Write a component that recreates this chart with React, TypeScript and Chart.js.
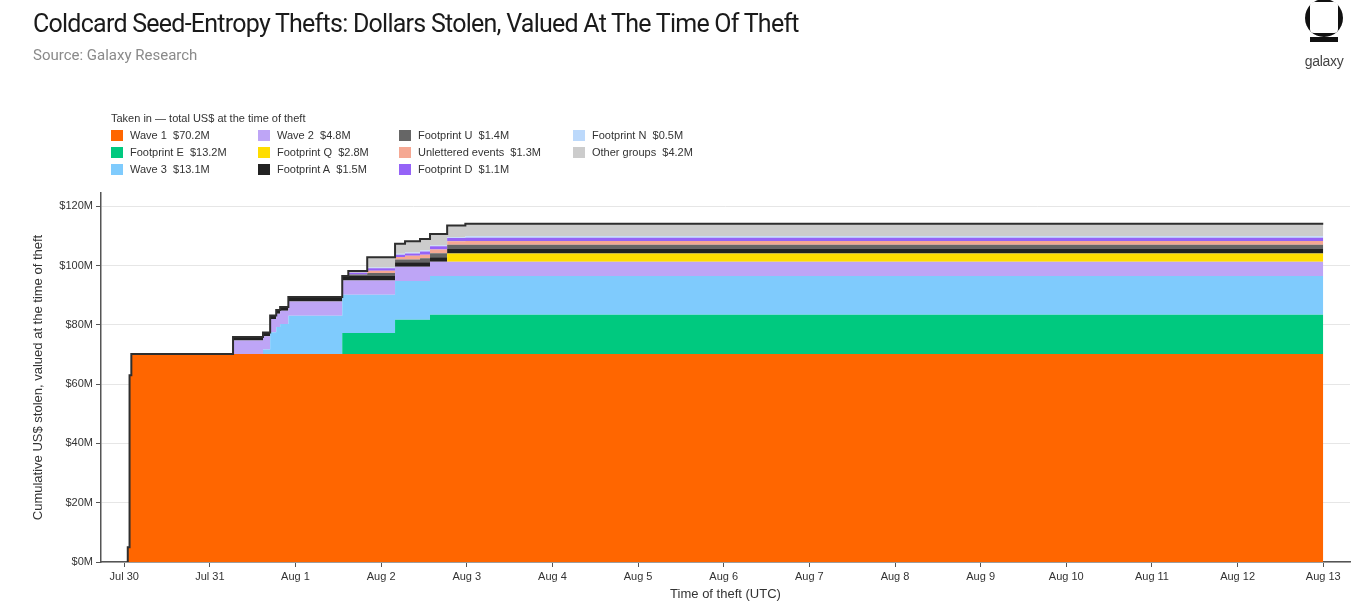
import { useEffect, useRef } from 'react';
import { Chart, registerables } from 'chart.js';

Chart.register(...registerables);

// hours after Jul 30 00:00 UTC at which a cumulative total changes
const hours = [0.9, 1.0, 1.5, 2.0, 30.5, 38.9, 40.9, 42.6, 43.7, 46.0, 61.1, 62.8, 68.1, 75.9, 78.7, 82.9, 85.7, 90.5, 95.6, 336];

// cumulative US$ millions per group, one value per entry in `hours`
const wave1 = [0, 5, 63, 70.2, 70.2, 70.2, 70.2, 70.2, 70.2, 70.2, 70.2, 70.2, 70.2, 70.2, 70.2, 70.2, 70.2, 70.2, 70.2, 70.2];
const footprintE = [0, 0, 0, 0, 0, 0, 0, 0, 0, 0, 7.1, 7.1, 7.1, 11.5, 11.5, 11.5, 13.2, 13.2, 13.2, 13.2];
const wave3 = [0, 0, 0, 0, 0, 1.5, 7.3, 9.1, 10.1, 12.9, 12.9, 12.9, 12.9, 13.1, 13.1, 13.1, 13.1, 13.1, 13.1, 13.1];
const wave2 = [0, 0, 0, 0, 4.5, 4.5, 4.5, 4.5, 4.5, 4.8, 4.8, 4.8, 4.8, 4.8, 4.8, 4.8, 4.8, 4.8, 4.8, 4.8];
const footprintQ = [0, 0, 0, 0, 0, 0, 0, 0, 0, 0, 0, 0, 0, 0, 0, 0, 0, 2.8, 2.8, 2.8];
const footprintA = [0, 0, 0, 0, 1.2, 1.2, 1.2, 1.2, 1.2, 1.5, 1.5, 1.5, 1.5, 1.5, 1.5, 1.5, 1.5, 1.5, 1.5, 1.5];
const footprintU = [0, 0, 0, 0, 0, 0, 0, 0, 0, 0, 0, 0.5, 1.0, 1.0, 1.0, 1.4, 1.4, 1.4, 1.4, 1.4];
const unlettered = [0, 0, 0, 0, 0, 0, 0, 0, 0, 0, 0, 0, 0.8, 0.8, 1.2, 1.2, 1.2, 1.2, 1.3, 1.3];
const footprintD = [0, 0, 0, 0, 0, 0, 0, 0, 0, 0, 0, 0.6, 0.8, 0.8, 0.8, 1.1, 1.1, 1.1, 1.1, 1.1];
const footprintN = [0, 0, 0, 0, 0, 0, 0, 0, 0, 0, 0, 0, 0.3, 0.3, 0.3, 0.3, 0.3, 0.3, 0.5, 0.5];
const otherGroups = [0, 0, 0, 0, 0, 0, 0, 0, 0, 0, 0, 0.6, 3.4, 3.4, 3.8, 3.9, 3.9, 3.9, 4.2, 4.2];

const seriesNames = ['Wave 1', 'Footprint E', 'Wave 3', 'Wave 2', 'Footprint Q', 'Footprint A', 'Footprint U', 'Unlettered events', 'Footprint D', 'Footprint N', 'Other groups'];
const seriesTotals = ['$70.2M', '$13.2M', '$13.1M', '$4.8M', '$2.8M', '$1.5M', '$1.4M', '$1.3M', '$1.1M', '$0.5M', '$4.2M'];
const seriesData = [wave1, footprintE, wave3, wave2, footprintQ, footprintA, footprintU, unlettered, footprintD, footprintN, otherGroups];
const seriesColors = ['#ff6600', '#00c97f', '#7fcbfd', '#bea5f6', '#ffdd00', '#222222', '#666666', '#f5a893', '#9563f7', '#bcd9fb', '#cccccc'];

const dayTicks = [0, 24, 48, 72, 96, 120, 144, 168, 192, 216, 240, 264, 288, 312, 336];
const dayLabels = ['Jul 30', 'Jul 31', 'Aug 1', 'Aug 2', 'Aug 3', 'Aug 4', 'Aug 5', 'Aug 6', 'Aug 7', 'Aug 8', 'Aug 9', 'Aug 10', 'Aug 11', 'Aug 12', 'Aug 13'];
const dollarTicks = [0, 20, 40, 60, 80, 100, 120];

const legendCols = [111, 258, 399, 573];
const FONT = "'Liberation Sans', Arial, sans-serif";

function TheftChart() {
  const canvasRef = useRef<HTMLCanvasElement>(null);
  const chartRef = useRef<Chart | null>(null);

  useEffect(() => {
    if (!canvasRef.current) return;
    if (chartRef.current) chartRef.current.destroy();

    const last = seriesNames.length - 1;
    const datasets = seriesNames.map((name, i) => ({
      label: name,
      data: hours.map((h, j) => ({ x: h, y: seriesData[i][j] })),
      backgroundColor: seriesColors[i],
      borderColor: i === last ? '#2e2e2e' : 'rgba(0,0,0,0)',
      borderWidth: i === last ? 2 : 0,
      fill: i === 0 ? 'origin' : '-1',
      stepped: true,
      pointRadius: 0,
    }));

    Chart.defaults.font.family = FONT;

    chartRef.current = new Chart(canvasRef.current, {
      type: 'line',
      data: { datasets },
      options: {
        responsive: true,
        maintainAspectRatio: false,
        animation: false,
        layout: { padding: { top: 193, right: 11, bottom: 0, left: 0 } },
        plugins: {
          legend: { display: false },
          tooltip: { enabled: false },
          filler: { drawTime: 'beforeDatasetsDraw' },
        },
        scales: {
          x: {
            type: 'linear',
            min: -6.5,
            max: 343.5,
            afterBuildTicks: (scale: any) => {
              scale.ticks = dayTicks.map((v) => ({ value: v }));
            },
            afterFit: (scale: any) => {
              scale.height = 45;
            },
            ticks: {
              callback: (v: any) => dayLabels[dayTicks.indexOf(Number(v))] ?? '',
              color: '#333',
              font: { size: 11 },
              padding: 3,
              maxRotation: 0,
              autoSkip: false,
            },
            grid: { drawOnChartArea: false, tickLength: 5, tickColor: '#555' },
            border: { color: '#555', width: 1.5 },
            title: {
              display: true,
              text: 'Time of theft (UTC)',
              color: '#333',
              font: { size: 13 },
              padding: { top: 0, bottom: 5 },
            },
          },
          y: {
            type: 'linear',
            stacked: true,
            min: 0,
            max: 124.5,
            afterBuildTicks: (scale: any) => {
              scale.ticks = dollarTicks.map((v) => ({ value: v }));
            },
            afterFit: (scale: any) => {
              scale.width = 101;
            },
            ticks: {
              callback: (v: any) => `$${v}M`,
              color: '#333',
              font: { size: 11 },
              padding: 3,
            },
            grid: { color: '#e6e6e6', tickLength: 5, tickColor: '#555' },
            border: { color: '#555', width: 1.5 },
            title: {
              display: true,
              text: 'Cumulative US$ stolen, valued at the time of theft',
              color: '#333',
              font: { size: 13 },
              padding: { top: 31, bottom: 0 },
            },
          },
        },
      },
    });

    return () => {
      if (chartRef.current) {
        chartRef.current.destroy();
        chartRef.current = null;
      }
    };
  }, []);

  return <canvas ref={canvasRef} />;
}

function Logo() {
  return (
    <div style={{ position: 'absolute', left: 1298, top: 0, width: 52, textAlign: 'center' }}>
      <svg width="52" height="44" viewBox="0 0 52 44" style={{ display: 'block' }}>
        <circle cx="26" cy="18" r="19" fill="#111" />
        <rect x="12" y="2" width="28" height="31" rx="4" fill="#fff" />
        <rect x="12" y="37" width="28" height="5" fill="#111" />
      </svg>
      <div style={{ fontSize: 14, color: '#444', marginTop: 9, letterSpacing: -0.3 }}>galaxy</div>
    </div>
  );
}

function Legend() {
  return (
    <div style={{ position: 'absolute', left: 0, top: 0, fontSize: 11, color: '#333' }}>
      <div style={{ position: 'absolute', left: 111, top: 112, whiteSpace: 'nowrap' }}>
        Taken in — total US$ at the time of theft
      </div>
      {seriesNames.map((name, i) => (
        <div
          key={name}
          style={{
            position: 'absolute',
            left: legendCols[Math.floor(i / 3)],
            top: 129 + (i % 3) * 17,
            display: 'flex',
            alignItems: 'center',
            whiteSpace: 'nowrap',
          }}
        >
          <span style={{ width: 12, height: 11, background: seriesColors[i], display: 'inline-block', marginRight: 7 }} />
          <span>
            {name}&nbsp;&nbsp;{seriesTotals[i]}
          </span>
        </div>
      ))}
    </div>
  );
}

export default function App() {
  return (
    <div
      style={{
        position: 'fixed',
        left: 0,
        top: 0,
        width: 1361,
        height: 607,
        background: '#fff',
        fontFamily: FONT,
        overflow: 'hidden',
      }}
    >
      <div style={{ position: 'absolute', inset: 0 }}>
        <TheftChart />
      </div>
      <div
        style={{
          position: 'absolute',
          left: 33,
          top: 9,
          fontFamily: 'Roboto, sans-serif',
          fontSize: 25,
          letterSpacing: -0.75,
          color: '#1a1a1a',
          whiteSpace: 'nowrap',
        }}
      >
        Coldcard Seed-Entropy Thefts: Dollars Stolen, Valued At The Time Of Theft
      </div>
      <div
        style={{
          position: 'absolute',
          left: 33,
          top: 46,
          fontFamily: 'Roboto, sans-serif',
          fontSize: 15,
          letterSpacing: 0,
          color: '#8a8a8a',
          whiteSpace: 'nowrap',
        }}
      >
        Source: Galaxy Research
      </div>
      <Legend />
      <Logo />
    </div>
  );
}
